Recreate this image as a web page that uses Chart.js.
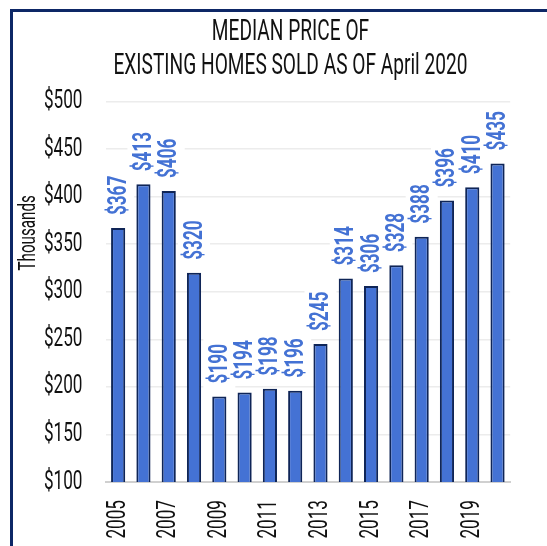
<!DOCTYPE html>
<html>
<head>
<meta charset="utf-8">
<script src="https://cdn.jsdelivr.net/npm/chart.js@4"></script>
<style>
  html, body { margin: 0; padding: 0; background: #fff; }
  #wrap { position: relative; width: 547px; height: 546px; overflow: hidden; }
  #frame {
    position: absolute; left: 10px; top: 9px; width: 700px; height: 700px;
    border-left: 3px solid #0d2766; border-top: 3px solid #0d2766;
    pointer-events: none;
  }
</style>
</head>
<body>
<div id="wrap">
  <canvas id="price-chart" width="547" height="546"></canvas>
  <div id="frame"></div>
</div>
<script>
"use strict";

// no condensed face installed, so squeeze text horizontally
var TEXT_SX = 0.66;
var proto = CanvasRenderingContext2D.prototype;
var rawFillText = proto.fillText;
var rawMeasureText = proto.measureText;
proto.fillText = function (text, x, y, maxWidth) {
  this.save();
  this.translate(x, y);
  this.scale(TEXT_SX, 1);
  if (maxWidth === undefined) {
    rawFillText.call(this, text, 0, 0);
  } else {
    rawFillText.call(this, text, 0, 0, maxWidth / TEXT_SX);
  }
  this.restore();
};
proto.measureText = function (text) {
  var m = rawMeasureText.call(this, text);
  return {
    width: m.width * TEXT_SX,
    actualBoundingBoxAscent: m.actualBoundingBoxAscent,
    actualBoundingBoxDescent: m.actualBoundingBoxDescent,
    actualBoundingBoxLeft: m.actualBoundingBoxLeft * TEXT_SX,
    actualBoundingBoxRight: m.actualBoundingBoxRight * TEXT_SX,
  };
};

var FONT = "Roboto, 'DejaVu Sans', sans-serif";
Chart.defaults.font.family = FONT;

// data
var years = ["2005", "2006", "2007", "2008", "2009", "2010", "2011", "2012",
             "2013", "2014", "2015", "2016", "2017", "2018", "2019", "2020"];
var medianPrice = [367, 413, 406, 320, 190, 194, 198, 196,
                   245, 314, 306, 328, 358, 396, 410, 435];
// labels as printed on the chart
var priceLabels = ["$367", "$413", "$406", "$320", "$190", "$194", "$198", "$196",
                   "$245", "$314", "$306", "$328", "$388", "$396", "$410", "$435"];
var yTicks = [100, 150, 200, 250, 300, 350, 400, 450, 500];

var LABEL_FONT = "bold 26px " + FONT;
var LABEL_GAP = 13;

// value labels above the bars, rotated, on white boxes
var barLabels = {
  id: "barLabels",
  beforeDatasetsDraw: function (chart) {
    var ctx = chart.ctx;
    var meta = chart.getDatasetMeta(0);
    ctx.save();
    ctx.font = LABEL_FONT;
    ctx.fillStyle = "#fff";
    meta.data.forEach(function (bar, i) {
      var w = ctx.measureText(priceLabels[i]).width;
      ctx.fillRect(bar.x - 16, bar.y - LABEL_GAP - w - 6, 32, w + 12);
    });
    ctx.restore();
  },
  afterDatasetsDraw: function (chart) {
    var ctx = chart.ctx;
    var meta = chart.getDatasetMeta(0);
    ctx.save();
    ctx.fillStyle = "#4472d4";
    ctx.font = LABEL_FONT;
    ctx.textAlign = "left";
    ctx.textBaseline = "middle";
    meta.data.forEach(function (bar, i) {
      ctx.save();
      ctx.translate(bar.x, bar.y - LABEL_GAP);
      ctx.rotate(-Math.PI / 2);
      ctx.fillText(priceLabels[i], 0, 1);
      ctx.restore();
    });
    ctx.restore();
  },
};

// y axis title, sits a bit above middle like the original
var yTitle = {
  id: "yTitle",
  afterDraw: function (chart) {
    var ctx = chart.ctx;
    var area = chart.chartArea;
    ctx.save();
    ctx.fillStyle = "#111";
    ctx.font = "23px " + FONT;
    ctx.textAlign = "center";
    ctx.textBaseline = "middle";
    ctx.translate(29, area.top + (area.bottom - area.top) * 0.345);
    ctx.rotate(-Math.PI / 2);
    ctx.fillText("Thousands", 0, 0);
    ctx.restore();
  },
};

var ctx1 = document.getElementById("price-chart").getContext("2d");

var priceChart = new Chart(ctx1, {
  type: "bar",
  data: {
    labels: years,
    datasets: [
      {
        label: "Median price",
        data: medianPrice,
        backgroundColor: "#4472d4",
        borderColor: "#0f2557",
        borderWidth: 2,
        borderSkipped: "bottom",
        categoryPercentage: 1,
        barPercentage: 0.56,
      },
    ],
  },
  options: {
    responsive: false,
    animation: false,
    layout: {
      padding: { left: 42, right: 8, top: 0, bottom: 7 },
    },
    plugins: {
      legend: { display: false },
      tooltip: { enabled: false },
      title: {
        display: true,
        text: ["MEDIAN PRICE OF", "EXISTING HOMES SOLD AS OF April 2020"],
        color: "#111",
        font: { size: 29, weight: "normal", lineHeight: 1.2 },
        padding: { top: 15, bottom: 17 },
      },
    },
    scales: {
      x: {
        grid: { display: false, drawTicks: false },
        border: { display: true, color: "#d0d0d0", width: 2 },
        afterFit: function (axis) {
          axis.height = 57;
        },
        ticks: {
          autoSkip: false,
          minRotation: 90,
          maxRotation: 90,
          color: "#111",
          font: { size: 26 },
          padding: 18,
          callback: function (value, index) {
            return index % 2 === 0 ? years[index] : "";
          },
        },
      },
      y: {
        min: 100,
        max: 500,
        border: { display: false },
        grid: { color: "#ececec", lineWidth: 1.5, drawTicks: false },
        afterFit: function (axis) {
          axis.width = 63.5;
        },
        afterBuildTicks: function (axis) {
          axis.ticks = yTicks.map(function (v) { return { value: v }; });
        },
        ticks: {
          color: "#111",
          font: { size: 26 },
          padding: 23,
          callback: function (value) {
            return "$" + value;
          },
        },
      },
    },
  },
  plugins: [barLabels, yTitle],
});
</script>
</body>
</html>
